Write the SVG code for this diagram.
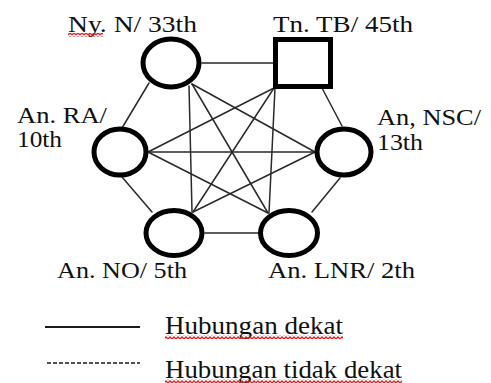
<svg xmlns="http://www.w3.org/2000/svg" width="491" height="383" viewBox="0 0 491 383">
  <defs>
    <style>
      .node { fill: #ffffff; stroke: #000000; stroke-width: 5; }
      .edge { stroke: #2a2a2a; stroke-width: 1.5; fill: none; stroke-linecap: round; }
      text { font-family: "Liberation Serif", "DejaVu Serif", serif; fill: #111111; }
      .lbl { font-size: 24px; }
      .leg { font-size: 25px; }
      .squig { fill: url(#wave); }
    </style>
    <pattern id="wave" x="0" y="0" width="4" height="4" patternUnits="userSpaceOnUse">
      <path d="M0,3 L2,1 L4,3" fill="none" stroke="#e02020" stroke-width="1.3"/>
    </pattern>
  </defs>
  <rect width="491" height="383" fill="#ffffff"/>

  <g id="connectors">
    <line class="edge" x1="202" y1="63" x2="273" y2="63"/>
    <line class="edge" x1="149" y1="83" x2="122" y2="128"/>
    <line class="edge" x1="189" y1="86" x2="192" y2="212"/>
    <line class="edge" x1="192" y1="84" x2="268" y2="213"/>
    <line class="edge" x1="192" y1="84" x2="315" y2="152"/>
    <line class="edge" x1="274" y1="88" x2="148" y2="152"/>
    <line class="edge" x1="274" y1="88" x2="193" y2="212"/>
    <line class="edge" x1="275" y1="88" x2="269" y2="213"/>
    <line class="edge" x1="322" y1="88" x2="342" y2="126"/>
    <line class="edge" x1="148" y1="152" x2="315" y2="152"/>
    <line class="edge" x1="148" y1="152" x2="268" y2="213"/>
    <line class="edge" x1="122" y1="177" x2="152" y2="212"/>
    <line class="edge" x1="315" y1="152" x2="193" y2="212"/>
    <line class="edge" x1="340" y1="178" x2="312" y2="212"/>
    <line class="edge" x1="205" y1="233" x2="258" y2="233"/>
  </g>

  <g id="node-ny">
    <ellipse class="node" cx="171" cy="63" rx="28" ry="24"/>
    <text class="lbl" x="68" y="32" textLength="129" lengthAdjust="spacingAndGlyphs">Ny. N/ 33th</text>
    <rect class="squig" x="68" y="33" width="35" height="4"/>
  </g>
  <g id="node-tb">
    <rect class="node" x="275.5" y="39.5" width="55" height="47"/>
    <text class="lbl" x="273" y="32" textLength="140" lengthAdjust="spacingAndGlyphs">Tn. TB/ 45th</text>
  </g>
  <g id="node-ra">
    <ellipse class="node" cx="120" cy="152" rx="26" ry="23"/>
    <text class="lbl" x="17" y="123" textLength="90" lengthAdjust="spacingAndGlyphs">An. RA/</text>
    <text class="lbl" x="17" y="147" textLength="45" lengthAdjust="spacingAndGlyphs">10th</text>
  </g>
  <g id="node-nsc">
    <ellipse class="node" cx="344" cy="152" rx="27" ry="23"/>
    <text class="lbl" x="377" y="125" textLength="104" lengthAdjust="spacingAndGlyphs">An, NSC/</text>
    <text class="lbl" x="377" y="150" textLength="46" lengthAdjust="spacingAndGlyphs">13th</text>
  </g>
  <g id="node-no">
    <ellipse class="node" cx="174" cy="233" rx="28" ry="22.5"/>
    <text class="lbl" x="57" y="278" textLength="130" lengthAdjust="spacingAndGlyphs">An. NO/ 5th</text>
  </g>
  <g id="node-lnr">
    <ellipse class="node" cx="289" cy="233" rx="28.5" ry="22.5"/>
    <text class="lbl" x="268" y="278" textLength="147" lengthAdjust="spacingAndGlyphs">An. LNR/ 2th</text>
  </g>

  <g id="legend">
    <line x1="45" y1="327" x2="140" y2="327" stroke="#1a1a1a" stroke-width="1.8"/>
    <line x1="47" y1="363" x2="140" y2="363" stroke="#1a1a1a" stroke-width="1.5" stroke-dasharray="4,2"/>
    <text class="leg" x="165" y="334" textLength="178" lengthAdjust="spacingAndGlyphs">Hubungan dekat</text>
    <rect class="squig" x="165" y="335" width="178" height="4"/>
    <text class="leg" x="165" y="378" textLength="237" lengthAdjust="spacingAndGlyphs">Hubungan tidak dekat</text>
    <rect class="squig" x="165" y="379" width="237" height="4"/>
  </g>
</svg>
